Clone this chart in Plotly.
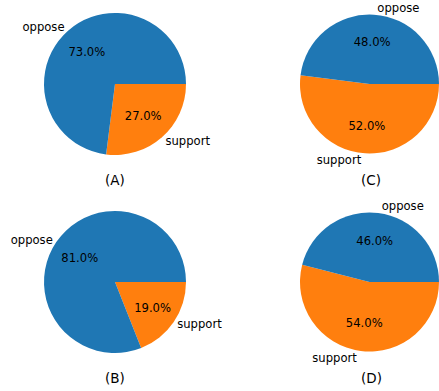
import plotly.graph_objects as go

labels = ["oppose", "support"]
vals_a = [73, 27]
vals_b = [81, 19]
vals_c = [48, 52]
vals_d = [46, 54]
titles = ["(A)", "(B)", "(C)", "(D)"]
colors = ["#1f77b4", "#ff7f0e"]

W, H = 439, 391

def px_dom(x0, x1, y0, y1):
    return dict(x=[x0 / W, x1 / W], y=[1 - y1 / H, 1 - y0 / H])

panels = [
    (vals_a, px_dom(44, 186, 13, 155), (115, 180)),
    (vals_b, px_dom(44, 186, 211, 353), (115, 378)),
    (vals_c, px_dom(300, 439, 13, 155), (371, 180)),
    (vals_d, px_dom(300, 439, 211, 353), (371, 378)),
]

FONT = "DejaVu Sans"
CLEAR = ["rgba(0,0,0,0)", "rgba(0,0,0,0)"]
fig = go.Figure()
# matplotlib draws counterclockwise from 3 o'clock; the plotly equivalent is
# clockwise from 3 o'clock with the slice order reversed.
for (vals, dom, _), t in zip(panels, titles):
    common = dict(labels=labels[::-1], values=vals[::-1], domain=dom, sort=False,
                  direction="clockwise", rotation=90, showlegend=False)
    fig.add_trace(go.Pie(
        **common, marker=dict(colors=colors[::-1], line=dict(width=0)),
        textinfo="none", hoverinfo="label+percent",
    ))
    fig.add_trace(go.Pie(
        **common, hole=0.2, marker=dict(colors=CLEAR, line=dict(width=0)),
        textinfo="percent", texttemplate="%{percent:.1%}",
        textposition="inside", insidetextorientation="horizontal",
        textfont=dict(family=FONT, size=11.6, color="black"), hoverinfo="skip",
    ))
    fig.add_trace(go.Pie(
        **common, marker=dict(colors=CLEAR, line=dict(width=0)),
        textinfo="label", texttemplate="%{label}", textposition="outside",
        outsidetextfont=dict(family=FONT, size=11.6, color="black"), hoverinfo="skip",
        automargin=False,
    ))

for (vals, dom, (tx, ty)), t in zip(panels, titles):
    fig.add_annotation(
        x=tx / W, y=1 - ty / H, xref="paper", yref="paper",
        text=t, showarrow=False, xanchor="center", yanchor="middle",
        font=dict(family=FONT, size=13.5, color="black"),
    )

fig.update_layout(
    width=W, height=H,
    margin=dict(l=0, r=0, t=0, b=0, pad=0, autoexpand=False),
    paper_bgcolor="white", plot_bgcolor="white",
    font=dict(family=FONT, color="black"),
)
fig.write_html("out.html")
